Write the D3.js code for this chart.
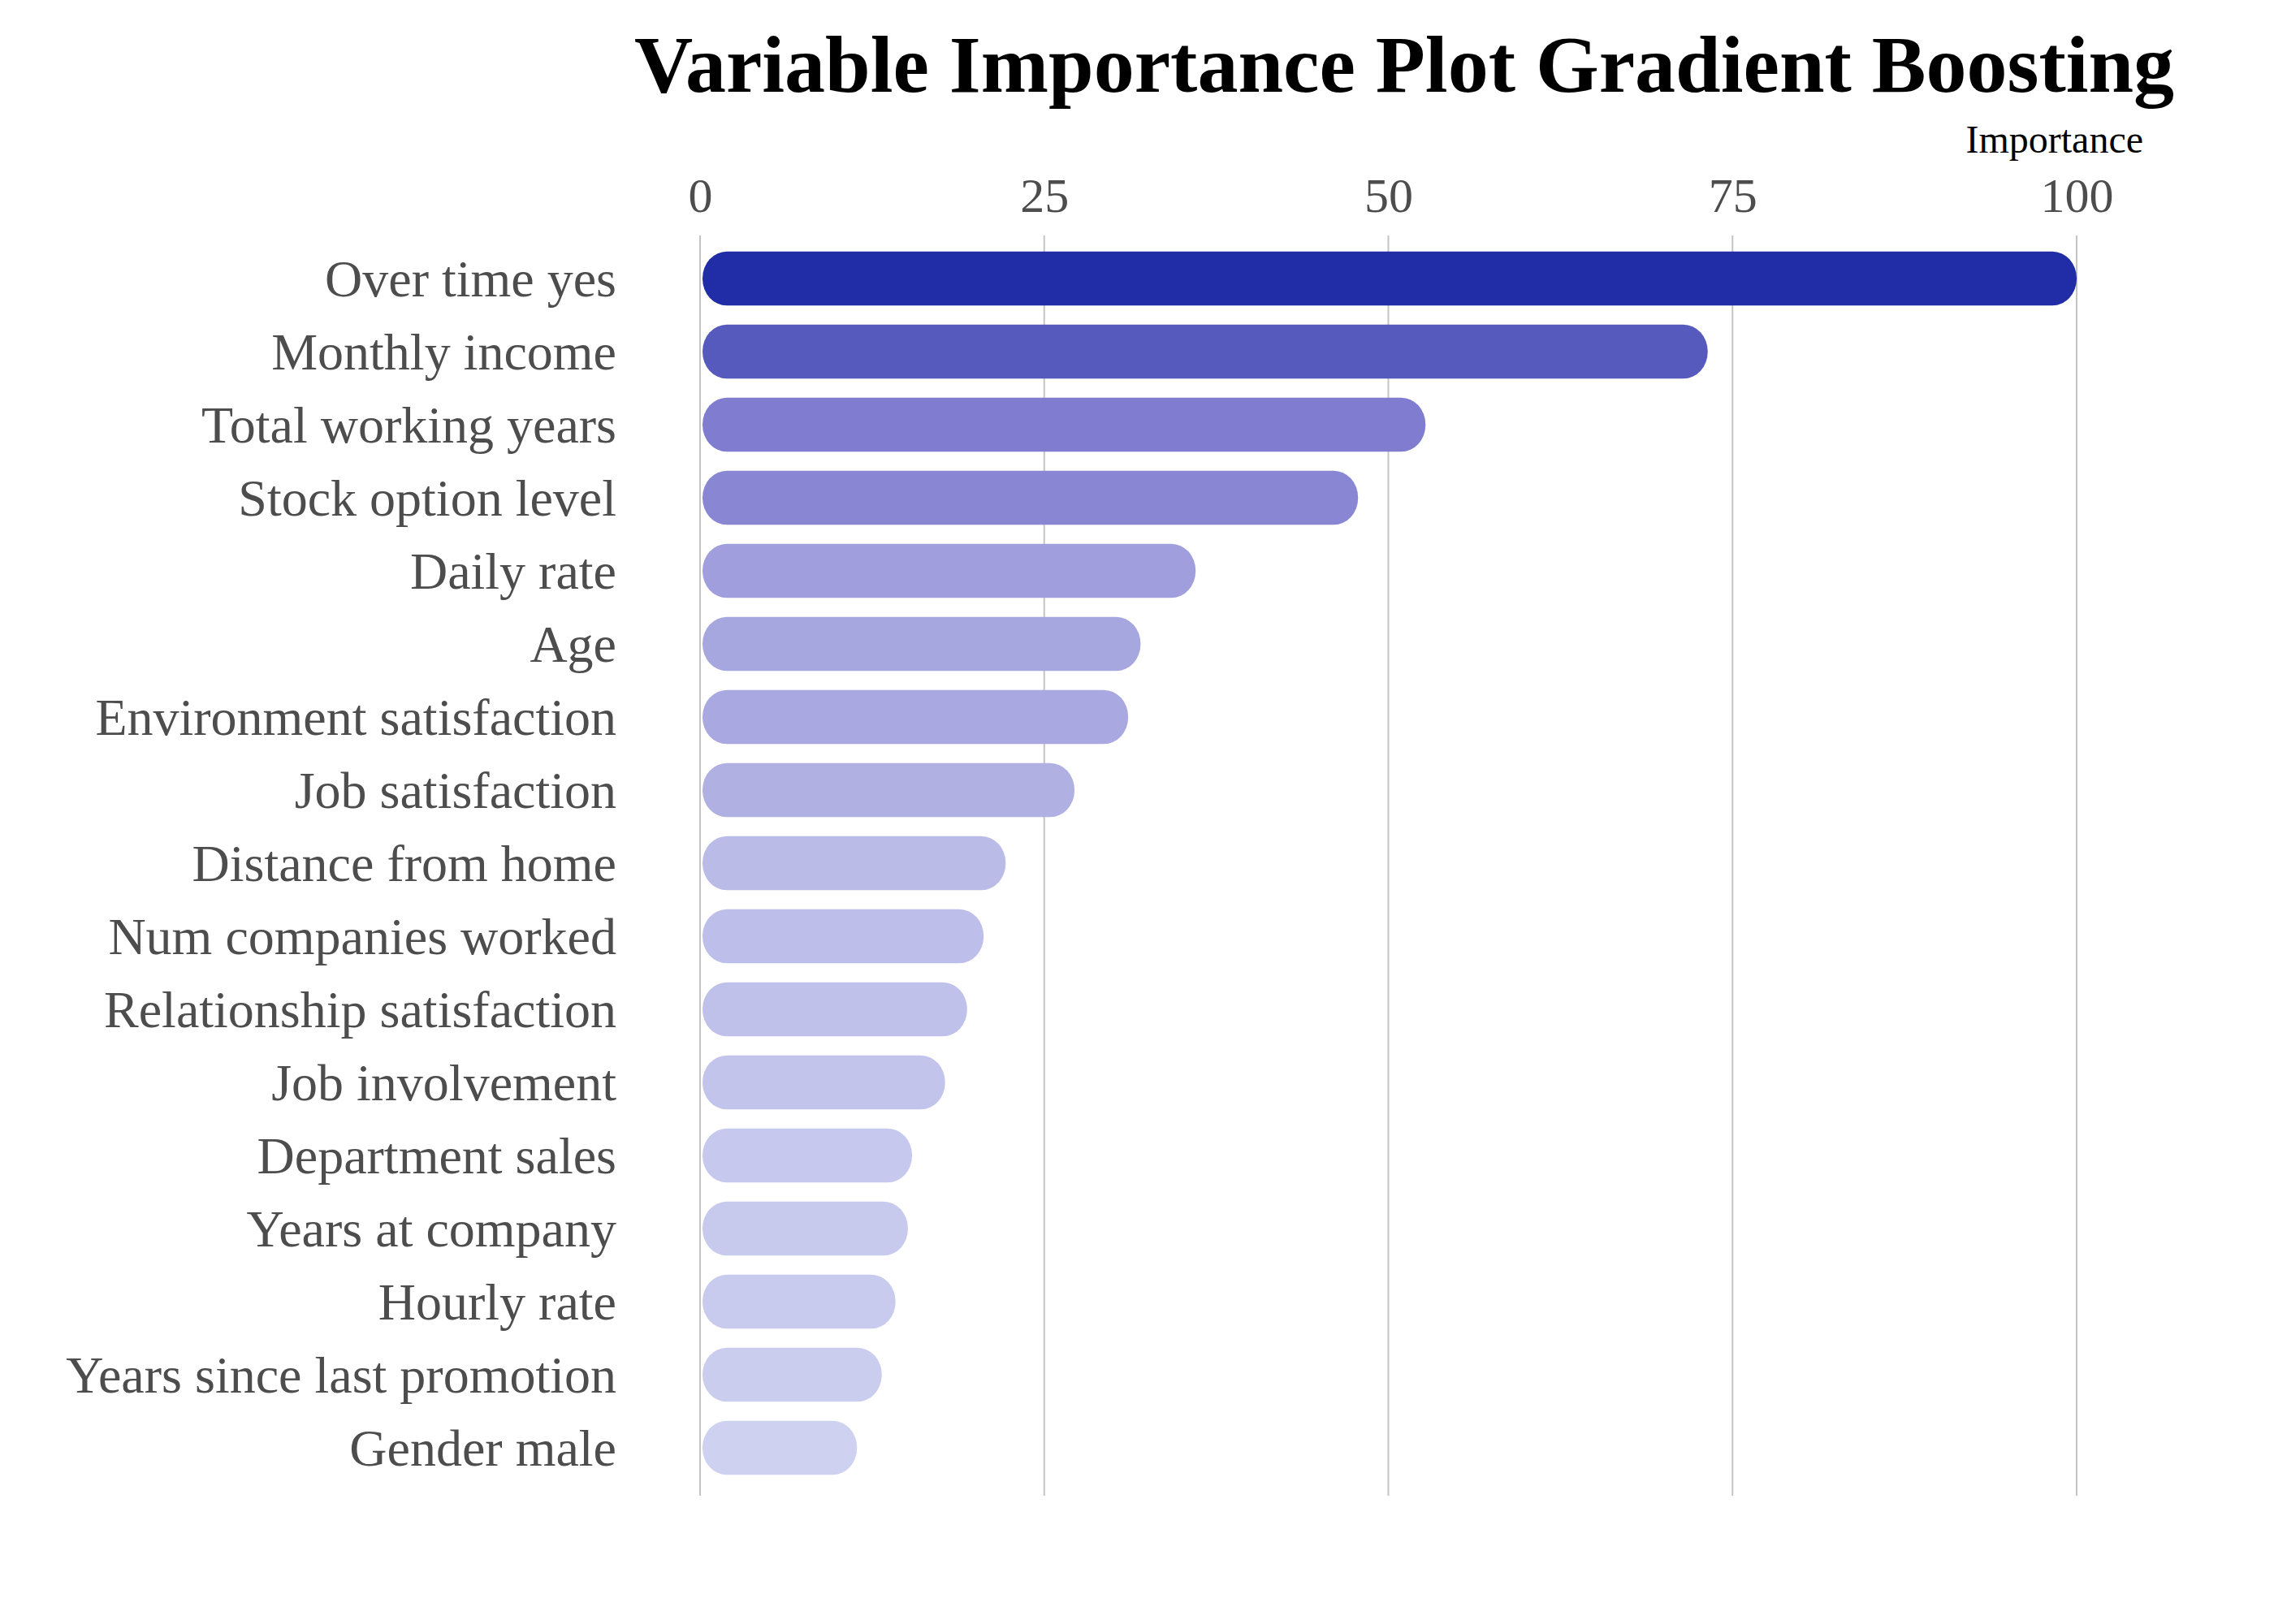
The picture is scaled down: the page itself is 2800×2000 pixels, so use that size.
<!DOCTYPE html>
<html>
<head>
<meta charset="utf-8">
<script src="https://cdn.jsdelivr.net/npm/d3@7"></script>
<style>
  body { margin: 0; background: #fff; }
  text { font-family: "Liberation Serif", "Times New Roman", serif; }
</style>
</head>
<body>
<svg></svg>
<script>
// variables, top to bottom
let variables = [
  "Over time yes", "Monthly income", "Total working years", "Stock option level",
  "Daily rate", "Age", "Environment satisfaction", "Job satisfaction",
  "Distance from home", "Num companies worked", "Relationship satisfaction",
  "Job involvement", "Department sales", "Years at company", "Hourly rate",
  "Years since last promotion", "Gender male"
];
let importance = [100, 73.2, 52.7, 47.8, 36.0, 32.0, 31.1, 27.2, 22.2, 20.6, 19.4, 17.8, 15.4, 15.1, 14.2, 13.2, 11.4];
let xTicks = [0, 25, 50, 75, 100];

let width = 2800;
let height = 2000;

let svg = d3.select("svg")
    .attr("width", width)
    .attr("height", height);

let data = variables.map((v, i) => ({name: v, value: importance[i]}));

let xScale = d3.scaleLinear()
    .domain([0, 100])
    .range([862, 2557]);

let yScale = d3.scaleBand()
    .domain(variables)
    .range([298, 1828])
    .paddingInner(0.26)
    .paddingOuter(0.13);

// light lavender -> dark blue, with a mid stop
let lo = d3.min(importance), hi = d3.max(importance);
let colorScale = d3.scaleLinear()
    .domain([lo, lo + (hi - lo) * 0.466, hi])
    .range(["#ced1f0", "#807ccf", "#212da6"]);

// gridlines
svg.append("g")
   .selectAll("line")
   .data(xTicks)
   .enter()
   .append("line")
   .attr("x1", d => xScale(d))
   .attr("x2", d => xScale(d))
   .attr("y1", 290)
   .attr("y2", 1842)
   .attr("stroke", "#c4c4c4")
   .attr("stroke-width", 2);

// top axis labels
let xAxis = d3.axisTop(xScale).tickValues(xTicks).tickSize(0).tickPadding(0);
let gx = svg.append("g")
   .attr("transform", "translate(0,261)")
   .call(xAxis);
gx.select(".domain").remove();
gx.selectAll("text")
  .attr("dy", 0)
  .style("font-family", "Liberation Serif")
  .style("font-size", "60px")
  .attr("fill", "#4d4d4d");

// y axis labels
let yAxis = d3.axisLeft(yScale).tickSize(0).tickPadding(0);
let gy = svg.append("g")
   .attr("transform", "translate(759,0)")
   .call(yAxis);
gy.select(".domain").remove();
gy.selectAll("text")
  .attr("dy", "0.34em")
  .style("font-family", "Liberation Serif")
  .style("font-size", "64px")
  .attr("fill", "#4d4d4d");

// bars (rounded)
svg.append("g")
   .selectAll("rect")
   .data(data)
   .enter()
   .append("rect")
   .attr("x", xScale(0) + 3)
   .attr("y", d => yScale(d.name))
   .attr("width", d => xScale(d.value) - xScale(0) - 3)
   .attr("height", yScale.bandwidth())
   .attr("rx", 30)
   .attr("ry", 33)
   .attr("fill", d => colorScale(d.value));

// titles
svg.append("text")
   .attr("x", 1729)
   .attr("y", 113)
   .attr("text-anchor", "middle")
   .style("font-size", "100px")
   .style("font-weight", "bold")
   .attr("fill", "#000")
   .text("Variable Importance Plot Gradient Boosting");

svg.append("text")
   .attr("x", 2639)
   .attr("y", 188)
   .attr("text-anchor", "end")
   .style("font-size", "48px")
   .attr("fill", "#000")
   .text("Importance");
</script>
</body>
</html>
